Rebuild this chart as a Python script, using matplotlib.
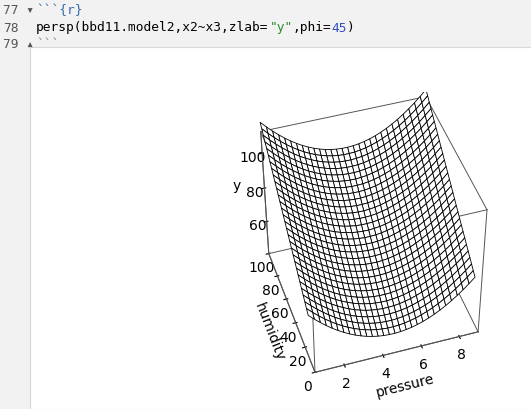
import numpy as np
import matplotlib
matplotlib.use("Agg")
import matplotlib.pyplot as plt

# fitted quadratic response model (coefficients)
b0, b_h, b_pp, p_center = 38.0, 0.55, 1.3, 4.8
pressure = np.linspace(0.5, 9.0, 30)
humidity = np.linspace(10, 100, 30)
zlim = (40, 112)

fig = plt.figure(figsize=(5.31, 4.10), dpi=100)
fig.patch.set_facecolor("white")
fig.add_artist(plt.Rectangle((0, 1 - 60/410), 1, 60/410, transform=fig.transFigure, color="#f2f2f2", zorder=0))
fig.add_artist(plt.Rectangle((0, 0), 30/531, 1, transform=fig.transFigure, color="#f2f2f2", zorder=0))
fig.add_artist(plt.Rectangle((30/531, 0), 1, 1 - 48/410, transform=fig.transFigure, facecolor="white", edgecolor="#d8d8d8", lw=0.8, zorder=1))
fs = 9.3
cw = 7.78
mono = dict(family="DejaVu Sans Mono", fontsize=fs)
for y, t in [(11, "77 ▾"), (28, "78"), (45, "79 ▴")]:
    fig.text(3/531, 1 - y/410, t, va="center", color="#555555", **mono)
x0 = 36
segs = [("```{r}", "#3a6fb0", 11), ("```", "#888888", 45)]
for t, c, y in segs:
    fig.text(x0/531, 1 - y/410, t, va="center", color=c, **mono)
line = [("persp(bbd11.model2,x2~x3,zlab=", "black"), ('"y"', "#2e8b2e"), (",phi=", "black"), ("45", "#3050c0"), (")", "black")]
pos = 0
for t, c in line:
    fig.text((x0 + pos * cw)/531, 1 - 28/410, t, va="center", color=c, **mono)
    pos += len(t)

ax = fig.add_axes([222/531, 22/410, 290/531, 300/410], projection="3d")
ax.set_zorder(3)
P, H = np.meshgrid(pressure, humidity)
Y = b0 + b_h * H + b_pp * (P - p_center) ** 2
ax.plot_surface(P, H, Y, color="white", edgecolor="black", linewidth=0.6, shade=False)
xl, yl = (pressure[0], pressure[-1]), (0, 100)
ax.set_xlim(*xl); ax.set_ylim(*yl); ax.set_zlim(*zlim)
for a in xl:
    for b in yl:
        ax.plot([a, a], [b, b], zlim, color="#555555", lw=0.7)
    for c in zlim:
        ax.plot([a, a], yl, [c, c], color="#555555", lw=0.7)
for b in yl:
    for c in zlim:
        ax.plot(xl, [b, b], [c, c], color="#555555", lw=0.7)
ax.set_xticks([2, 4, 6, 8]); ax.set_yticks([0, 20, 40, 60, 80, 100]); ax.set_zticks([60, 80, 100])
ax.set_xlabel("pressure", labelpad=-6, fontsize=10); ax.set_ylabel("humidity", labelpad=-6, fontsize=10); ax.set_zlabel("y", labelpad=-6, fontsize=10)
ax.tick_params(labelsize=10, pad=-3)
for a in (ax.xaxis, ax.yaxis, ax.zaxis):
    a.pane.set_visible(False)
    a.line.set_color("#555555")
ax.grid(False)
ax.view_init(elev=45, azim=-108)
ax.set_box_aspect((1, 1, 1))
fig.savefig("out.png", dpi=100)
